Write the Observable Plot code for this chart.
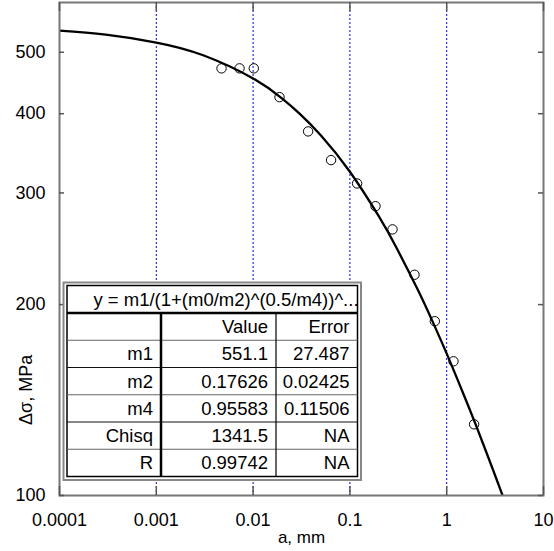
<!DOCTYPE html>
<html><head><meta charset="utf-8">
<script src="https://cdn.jsdelivr.net/npm/d3@7"></script>
<script src="https://cdn.jsdelivr.net/npm/@observablehq/plot@0.6"></script>
<style>body{margin:0;background:#fff} svg{display:block}</style>
</head><body><div id="chart"></div>
<script>
// measured points (a, mm ; Δσ, MPa)
const pointA = [0.00472, 0.00724, 0.01017, 0.01874, 0.0370, 0.0639, 0.1187, 0.1839, 0.2755, 0.465, 0.754, 1.175, 1.919];
const pointS = [471.6, 471.6, 471.6, 424.8, 375.1, 338.0, 310.5, 285.9, 262.8, 222.9, 188.3, 162.8, 129.5];
// fitted curve
const curveA = [0.0001, 0.0003, 0.001, 0.003, 0.01, 0.02, 0.03, 0.05, 0.1, 0.2, 0.3, 0.5, 0.7, 1, 1.5, 2, 3, 3.78, 4];
const curveS = [540.7, 533.0, 518.0, 495.1, 454.7, 422.6, 400.6, 370.0, 324.0, 275.2, 246.5, 211.4, 189.4, 167.4, 144.2, 129.2, 109.9, 100.0, 97.5];
const xTicks = [0.0001, 0.001, 0.01, 0.1, 1, 10];
const xTickLabels = ["0.0001", "0.001", "0.01", "0.1", "1", "10"];
const yTicks = [100, 200, 300, 400, 500];
const yTickLabels = ["100", "200", "300", "400", "500"];
const xTitle = "a, mm";
const yTitle = "Δσ, MPa";
const fitTitle = "y = m1/(1+(m0/m2)^(0.5/m4))^...";
const tableHeader = ["", "Value", "Error"];
const rowNames = ["m1", "m2", "m4", "Chisq", "R"];
const rowValues = ["551.1", "0.17626", "0.95583", "1341.5", "0.99742"];
const rowErrors = ["27.487", "0.02425", "0.11506", "NA", "NA"];

const points = pointA.map((a, i) => ({a, s: pointS[i]}));
const curve = curveA.map((a, i) => ({a, s: curveS[i]}));
const xLab = new Map(xTicks.map((d, i) => [d, xTickLabels[i]]));
const yLab = new Map(yTicks.map((d, i) => [d, yTickLabels[i]]));

const W = 554, H = 551, mT = 2, mB = 56, mL = 59, mR = 11;
const fh = H - mT - mB, fw = W - mL - mR;
const FONT = "'Liberation Sans', Arial, Helvetica, sans-serif";

const plot = Plot.plot({
  width: W, height: H,
  marginTop: mT, marginBottom: mB, marginLeft: mL, marginRight: mR,
  x: {type: "log", domain: [0.0001, 10]},
  y: {type: "log", domain: [100, 599]},
  axis: null,
  style: {fontFamily: FONT, fontSize: "18px", background: "#fff", color: "#000"},
  marks: [
    Plot.ruleX(xTicks, {x: d => d, stroke: "#0000ee", strokeWidth: 1, strokeDasharray: "2,2"}),
    Plot.line(curve, {x: "a", y: "s", stroke: "#000", strokeWidth: 2.3, curve: "natural", clip: true}),
    Plot.dot(points, {x: "a", y: "s", r: 4.7, stroke: "#000", strokeWidth: 1, fill: "none"}),
    Plot.frame({stroke: "#777", strokeWidth: 2}),
    // inward ticks
    Plot.ruleX(xTicks, {x: d => d, insetTop: fh - 9, stroke: "#555", strokeWidth: 1.5}),
    Plot.ruleX(xTicks, {x: d => d, insetBottom: fh - 9, stroke: "#555", strokeWidth: 1.5}),
    Plot.ruleY(yTicks, {y: d => d, insetRight: fw - 5, stroke: "#555", strokeWidth: 1.5}),
    Plot.ruleY(yTicks, {y: d => d, insetLeft: fw - 5, stroke: "#555", strokeWidth: 1.5}),
    // tick labels
    Plot.text(xTicks, {x: d => d, text: d => xLab.get(d), frameAnchor: "bottom", dy: 25, lineAnchor: "middle", fill: "#000"}),
    Plot.text(yTicks, {y: d => d, text: d => yLab.get(d), frameAnchor: "left", dx: -14, textAnchor: "end", lineAnchor: "middle", fill: "#000"}),
    // axis titles
    Plot.text([xTitle], {text: d => d, frameAnchor: "bottom", dy: 42, lineAnchor: "middle", fill: "#000", fontSize: 17}),
    Plot.text([yTitle], {text: d => d, frameAnchor: "left", dx: -33, dy: 176, rotate: -90, lineAnchor: "middle", fill: "#000", fontSize: 18})
  ]
});
document.getElementById("chart").appendChild(plot);

// fit-results table inset
const svg = d3.select(plot);
const g = svg.append("g").attr("font-family", FONT).attr("font-size", 18.5).attr("fill", "#000");
const ox0 = 63.5, oy0 = 282.5, ox1 = 361, oy1 = 480;
const ix0 = 67, iy0 = 285.5, ix1 = 357.5, iy1 = 476.5;
const titleBottom = 313;
const rowH = (iy1 - titleBottom) / 6;
const col1 = 161, col2 = 276;
g.append("rect").attr("x", ox0).attr("y", oy0).attr("width", ox1 - ox0).attr("height", oy1 - oy0)
  .attr("fill", "#fff").attr("stroke", "#888").attr("stroke-width", 2);
g.append("rect").attr("x", ix0).attr("y", iy0).attr("width", ix1 - ix0).attr("height", iy1 - iy0)
  .attr("fill", "#fff").attr("stroke", "#000").attr("stroke-width", 1.5);
g.append("line").attr("x1", ix0).attr("x2", ix1).attr("y1", titleBottom).attr("y2", titleBottom)
  .attr("stroke", "#000").attr("stroke-width", 2.5);
for (let r = 1; r < 6; r++) {
  const y = titleBottom + r * rowH;
  g.append("line").attr("x1", ix0).attr("x2", ix1).attr("y1", y).attr("y2", y)
    .attr("stroke", r % 2 ? "#666" : "#111").attr("stroke-width", 1);
}
g.append("line").attr("x1", col1).attr("x2", col1).attr("y1", titleBottom).attr("y2", iy1)
  .attr("stroke", "#000").attr("stroke-width", 2.5);
g.append("line").attr("x1", col2).attr("x2", col2).attr("y1", titleBottom).attr("y2", iy1)
  .attr("stroke", "#000").attr("stroke-width", 1.2);
g.append("text").attr("x", 226).attr("y", (iy0 + titleBottom) / 2).attr("dy", "0.35em")
  .attr("text-anchor", "middle").text(fitTitle);
const rows = [tableHeader].concat(rowNames.map((n, i) => [n, rowValues[i], rowErrors[i]]));
const rightX = [col1 - 8, col2 - 8, ix1 - 8];
rows.forEach((row, r) => {
  const cy = titleBottom + (r + 0.5) * rowH;
  row.forEach((t, c) => {
    if (!t) return;
    g.append("text").attr("x", rightX[c]).attr("y", cy).attr("dy", "0.35em")
      .attr("text-anchor", "end").text(t);
  });
});
</script>
</body></html>
